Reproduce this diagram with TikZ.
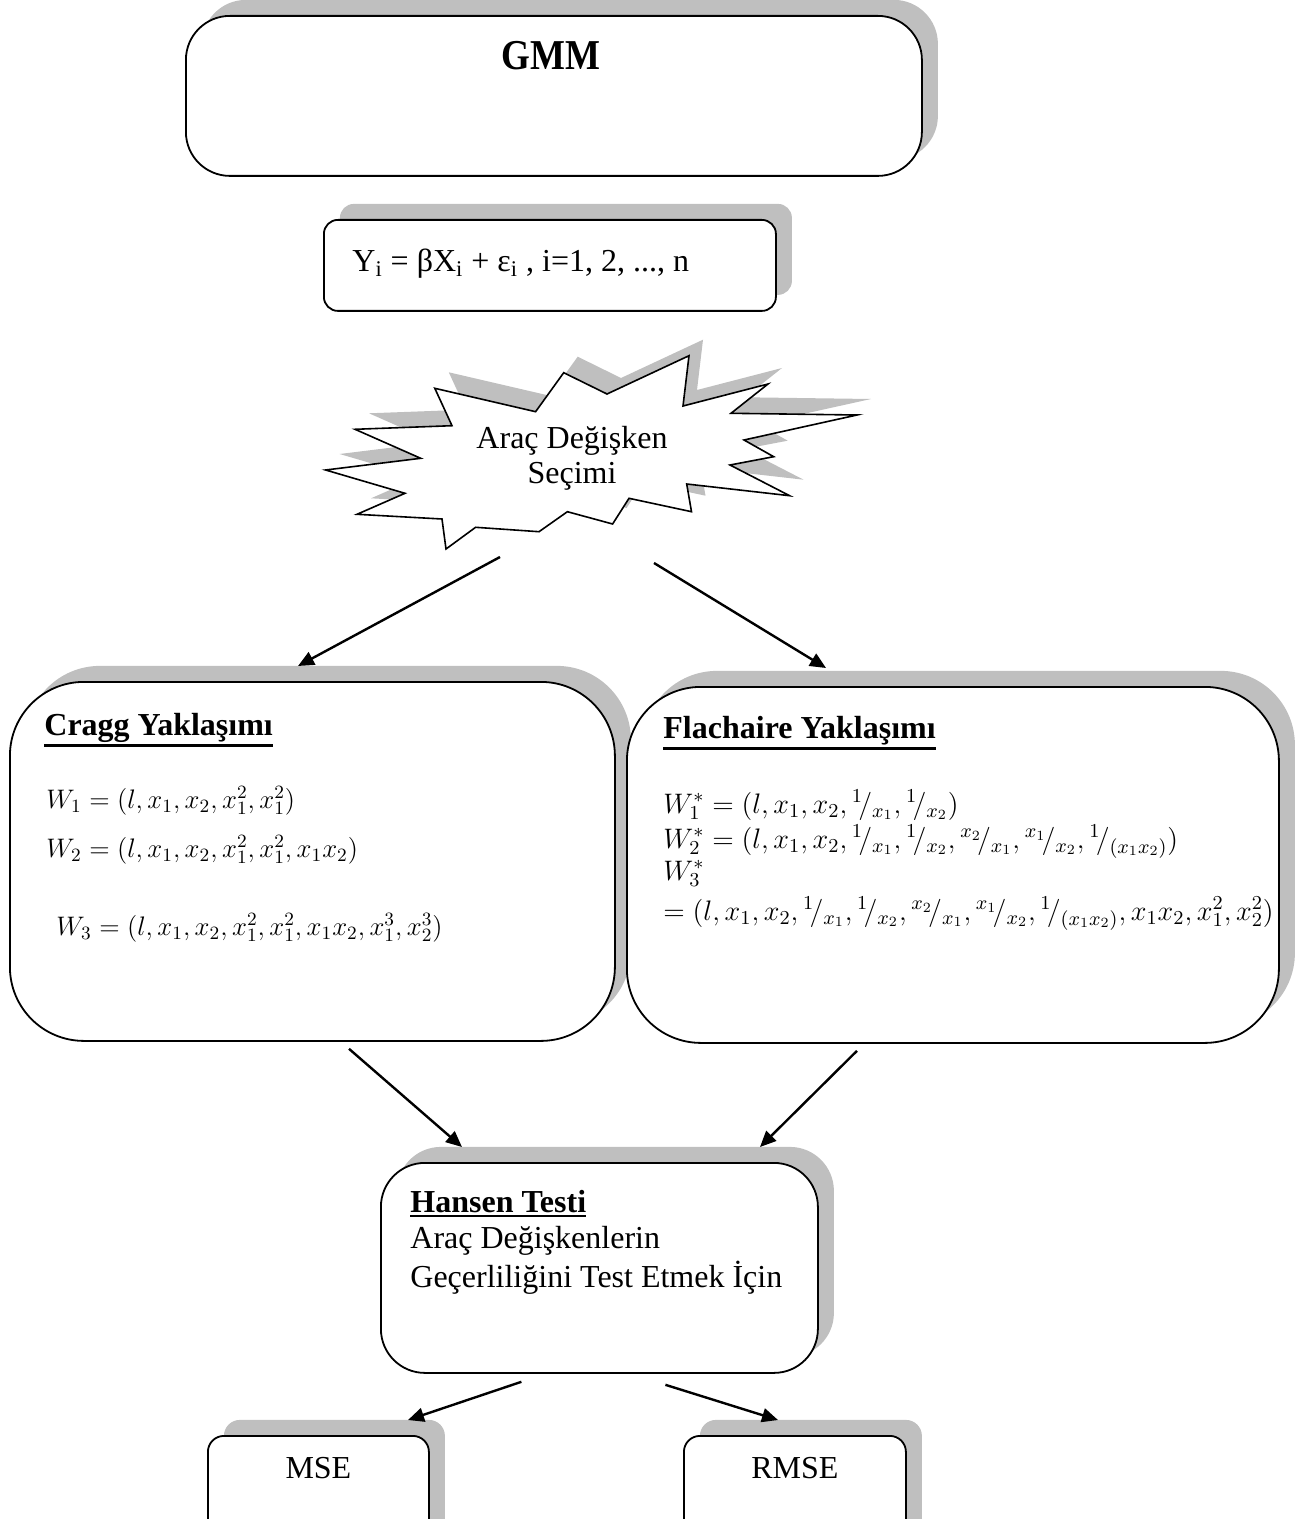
\documentclass[tikz,border=0pt]{standalone}
\usepackage{fix-cm}
\usepackage{fontspec}
\setmainfont{Liberation Serif}
\usetikzlibrary{positioning,shadows,arrows.meta}
\definecolor{shadegray}{RGB}{191,191,191}
\newcommand{\sfr}[2]{{}^{#1}\!/_{#2}}
\newcommand{\thul}[1]{\leavevmode\vtop{\hbox{#1}\kern1.2pt\hrule height 1.3pt}}

\tikzset{
  panel/.style={draw, line width=0.9pt, fill=white, inner sep=0pt, anchor=north west,
    general shadow={shadow xshift=8pt, shadow yshift=8pt, fill=shadegray}},
  burst/.style={draw, line width=0.8pt, fill=white,
    general shadow={shadow xshift=7pt, shadow yshift=8pt, fill=shadegray}},
  txt/.style={inner sep=0pt, font=\fontsize{16}{17.5}\selectfont},
  eqn/.style={inner sep=0pt, font=\fontsize{14.1}{16}\selectfont},
  eqnc/.style={inner sep=0pt, font=\fontsize{13.4}{14.5}\selectfont},
  flow/.style={line width=1.2pt, -{Triangle[length=8pt,width=7pt]}},
}

\begin{document}
\begin{tikzpicture}[x=0.5pt, y=-0.5pt]
\useasboundingbox (0,0) rectangle (1312,1519);

% boxes
\node[panel, rounded corners=22pt, minimum width=368pt, minimum height=80pt] (gmm) at (185,15) {};
\node[panel, rounded corners=7pt, minimum width=226pt, minimum height=45.5pt] (model) at (323,219) {};
\node[panel, rounded corners=37pt, minimum width=302.5pt, minimum height=179.5pt] (cragg) at (9,681) {};
\node[panel, rounded corners=37pt, minimum width=326pt, minimum height=178pt] (flach) at (626,686) {};
\node[panel, rounded corners=22pt, minimum width=218.5pt, minimum height=105pt] (hansen) at (380,1162) {};
\node[panel, rounded corners=8pt, minimum width=110.5pt, minimum height=62pt] (mse) at (207,1435) {};
\node[panel, rounded corners=8pt, minimum width=111pt, minimum height=62pt] (rmse) at (683,1435) {};

% star
\draw[burst] (434.8,388.3) -- (535.6,411.7) -- (563.7,372.7) -- (607,394) -- (689,355.7)
  -- (683,406) -- (768,384) -- (731,413.3) -- (857,415) -- (744,440) -- (773.7,456.7)
  -- (730,465) -- (789.6,495.7) -- (686.7,484) -- (691.5,511.7) -- (629,498.3)
  -- (612.6,524) -- (567.4,511.7) -- (539,531.7) -- (475.6,527.3) -- (446,549)
  -- (442,519) -- (357,514.3) -- (405,493.3) -- (325.6,470) -- (420.7,458.3)
  -- (355,429.3) -- (452,425.7) -- cycle;
\node[txt, align=center] (sel) at (572,458) {Araç Değişken\\Seçimi};

% texts
\node[inner sep=0pt, font=\bfseries\fontsize{18.5}{20}\selectfont] (gmmlbl) at (551,56) {\scalebox{1}[1.15]{GMM}};
\node[txt, below right = 26.5pt and 14.5pt of model.north west, anchor=base west] (modellbl)
  {Y\textsubscript{i} = βX\textsubscript{i} + ε\textsubscript{i} , i=1, 2, ..., n};

\node[txt, below right = 27pt and 17.5pt of cragg.north west, anchor=base west] (craggt)
  {\textbf{\thul{Cragg Yaklaşımı}}};
\node[eqnc, below right = 63.5pt and 18.5pt of cragg.north west, anchor=base west] (w1)
  {$W_1 = (l, x_1, x_2, x_1^2, x_1^2)$};
\node[eqnc, below right = 88pt and 18.5pt of cragg.north west, anchor=base west] (w2)
  {$W_2 = (l, x_1, x_2, x_1^2, x_1^2, x_1x_2)$};
\node[eqnc, below right = 127pt and 23.5pt of cragg.north west, anchor=base west] (w3)
  {$W_3 = (l, x_1, x_2, x_1^2, x_1^2, x_1x_2, x_1^3, x_2^3)$};

\node[txt, below right = 26pt and 18.5pt of flach.north west, anchor=base west] (flacht)
  {\textbf{\thul{Flachaire Yaklaşımı}}};
\node[eqn, below right = 63.5pt and 18.5pt of flach.north west, anchor=base west] (v1)
  {$W_1^* = (l, x_1, x_2, \sfr{1}{x_1}, \sfr{1}{x_2})$};
\node[eqn, below right = 81pt and 18.5pt of flach.north west, anchor=base west] (v2)
  {$W_2^* = (l, x_1, x_2, \sfr{1}{x_1}, \sfr{1}{x_2}, \sfr{x_2}{x_1}, \sfr{x_1}{x_2}, \sfr{1}{(x_1x_2)})$};
\node[eqn, below right = 97pt and 18.5pt of flach.north west, anchor=base west] (v3)
  {$W_3^*$};
\node[eqn, below right = 117pt and 18.5pt of flach.north west, anchor=base west] (v3b)
  {$= (l, x_1, x_2, \sfr{1}{x_1}, \sfr{1}{x_2}, \sfr{x_2}{x_1}, \sfr{x_1}{x_2}, \sfr{1}{(x_1x_2)}, x_1x_2, x_1^2, x_2^2)$};

\node[txt, below right = 25pt and 15pt of hansen.north west, anchor=base west] (hant)
  {\textbf{\thul{Hansen Testi}}};
\node[txt, below right = 43pt and 15pt of hansen.north west, anchor=base west] (han2)
  {Araç Değişkenlerin};
\node[txt, below right = 62.5pt and 15pt of hansen.north west, anchor=base west] (han3)
  {Geçerliliğini Test Etmek İçin};

\node[txt] (mselbl) at ([yshift=-16.5pt]mse.north) {MSE};
\node[txt] (rmselbl) at ([yshift=-16.5pt]rmse.north) {RMSE};

% connectors
\coordinate (burstL) at (500,557);
\coordinate (burstR) at (654,563);
\draw[flow] (burstL) -- ([xshift=144.5pt, yshift=7.5pt]cragg.north west);
\draw[flow] (burstR) -- ([xshift=100pt, yshift=9pt]flach.north west);
\draw[flow] ([xshift=170pt, yshift=-3.5pt]cragg.south west) -- ([xshift=41pt, yshift=7.5pt]hansen.north west);
\draw[flow] ([xshift=115.5pt, yshift=-3.5pt]flach.south west) -- ([xshift=190pt, yshift=7.5pt]hansen.north west);
\draw[flow] ([xshift=-39pt, yshift=-4pt]hansen.south) -- ([xshift=100.5pt, yshift=7.5pt]mse.north west);
\draw[flow] ([xshift=33pt, yshift=-5.5pt]hansen.south) -- ([xshift=47.5pt, yshift=7.5pt]rmse.north west);

\end{tikzpicture}
\end{document}
